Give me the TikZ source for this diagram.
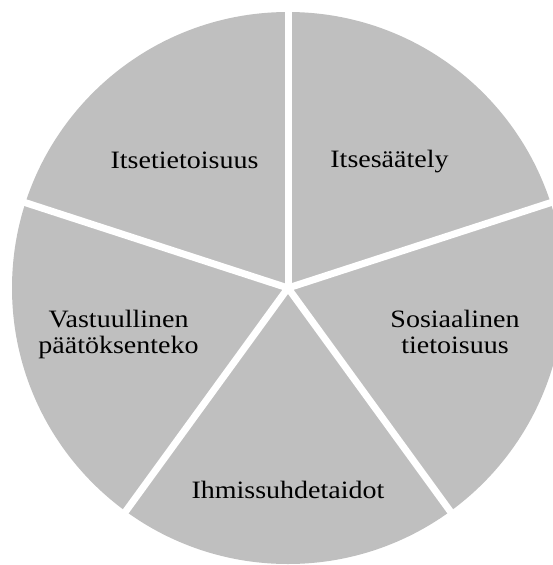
\documentclass[tikz,border=0pt]{standalone}
\usepackage{fontspec}
\setmainfont[FakeStretch=1.12]{Liberation Serif}
\usetikzlibrary{calc}
\definecolor{piegray}{HTML}{BFBFBF}
\begin{document}
\begin{tikzpicture}[x=1pt,y=1pt,
  lbl/.style={font=\fontsize{25}{26}\selectfont, align=center, inner sep=0pt, anchor=base, text=black},
  divider/.style={white, line width=7pt}]
\useasboundingbox (0,0) rectangle (553,-565);
\clip (0,0) rectangle (553,-565);
\coordinate (c) at (288,-288);
\fill[piegray] (c) circle (276);
\foreach \a/\n in {90/a,18/b,-54/d,-126/e,162/f}{
  \coordinate (\n) at ($(c)+(\a:300)$);
  \draw[divider] (c) -- (\n);
}
\node[lbl] (s1) at (184.5,-168) {Itsetietoisuus};
\node[lbl] (s2) at (389.5,-167) {Itsesäätely};
\node[lbl] (s3) at (455,-353) {Sosiaalinen\\tietoisuus};
\node[lbl] (s4) at (288,-498) {Ihmissuhdetaidot};
\node[lbl] (s5) at (118.5,-353) {Vastuullinen\\päätöksenteko};
\end{tikzpicture}
\end{document}
